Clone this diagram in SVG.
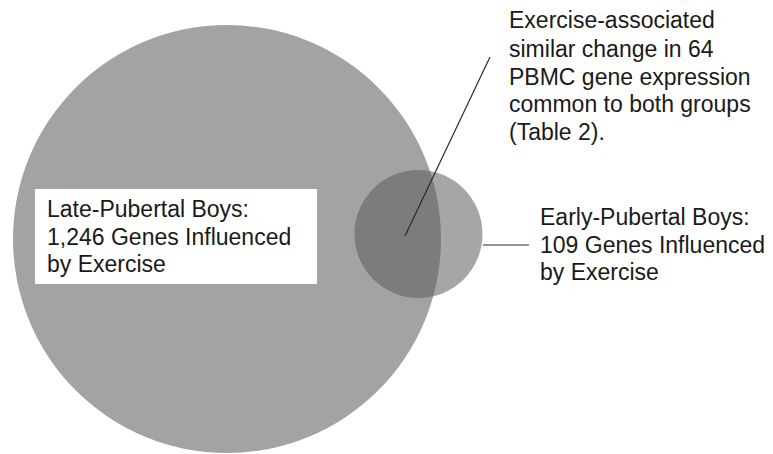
<svg xmlns="http://www.w3.org/2000/svg" width="773" height="454" viewBox="0 0 773 454">
<style>
text{font-family:"Liberation Sans",Arial,sans-serif;font-size:23px;fill:#1a1a1a}
.lead{stroke:#2a2a2a;stroke-width:1.2;fill:none}
</style>
<defs>
<clipPath id="bigClip"><circle cx="227" cy="239" r="214"/></clipPath>
</defs>
<rect width="773" height="454" fill="#ffffff"/>
<g id="early">
<circle cx="418.5" cy="234" r="64" fill="#a6a6a6"/>
</g>
<g id="late">
<circle cx="227" cy="239" r="214" fill="#a3a3a3"/>
<rect x="35" y="189" width="282" height="95" fill="#ffffff"/>
<text x="47" y="217">Late-Pubertal Boys:</text>
<text x="47" y="245">1,246 Genes Influenced</text>
<text x="47" y="272">by Exercise</text>
</g>
<g id="overlap">
<circle cx="418.5" cy="234" r="64" fill="#7c7c7c" clip-path="url(#bigClip)"/>
</g>
<g id="connectors">
<line class="lead" x1="405" y1="236" x2="490" y2="57"/>
<line class="lead" x1="483" y1="245" x2="529" y2="245" stroke="#555"/>
</g>
<g id="common-label">
<text x="509" y="28">Exercise-associated</text>
<text x="509" y="57">similar change in 64</text>
<text x="509" y="85">PBMC gene expression</text>
<text x="509" y="112">common to both groups</text>
<text x="509" y="140">(Table 2).</text>
</g>
<g id="early-label">
<text x="540" y="225">Early-Pubertal Boys:</text>
<text x="540" y="253">109 Genes Influenced</text>
<text x="540" y="280">by Exercise</text>
</g>
</svg>
